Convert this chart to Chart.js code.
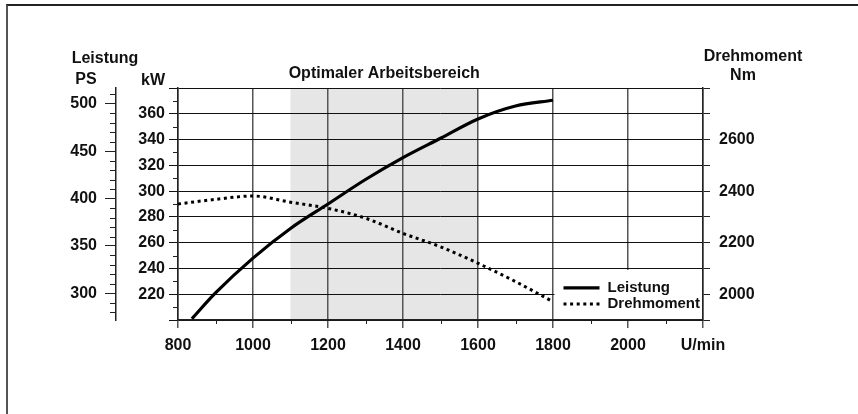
<!DOCTYPE html>
<html>
<head>
<meta charset="utf-8">
<script src="https://cdn.jsdelivr.net/npm/chart.js@4/dist/chart.umd.min.js"></script>
<style>
  html, body { margin: 0; padding: 0; background: #fff; }
  #wrap { position: relative; width: 858px; height: 414px; overflow: hidden; }
  #frame { position: absolute; left: 6px; top: 4px; width: 900px; height: 500px;
           border-top: 2px solid #222; border-left: 2px solid #555; }
  #chart { position: absolute; left: 0; top: 0; }
</style>
</head>
<body>
<div id="wrap">
  <div id="frame"></div>
  <canvas id="chart" width="858" height="414"></canvas>
</div>
<script>
// ============================================================
// Leistung / Drehmoment Kennlinie
// ============================================================

const rpmLeistung = [837, 900, 1000, 1100, 1200, 1300, 1400, 1500, 1600, 1700, 1800];
const leistungKW  = [201, 221, 248, 271, 290, 309, 326, 341, 356, 366, 370.5];

const rpmDrehmoment = [800, 900, 1000, 1100, 1200, 1300, 1400, 1500, 1600, 1700, 1800];
const drehmomentNm  = [2350, 2368, 2381, 2357, 2333, 2295, 2236, 2184, 2120, 2049, 1971];

const rpmTicks = [800, 1000, 1200, 1400, 1600, 1800, 2000, 2200];
const rpmLabels = ['800', '1000', '1200', '1400', '1600', '1800', '2000', 'U/min'];
const kwTicks = [220, 240, 260, 280, 300, 320, 340, 360];
const psTicks = [300, 350, 400, 450, 500];
const nmTicks = [2000, 2200, 2400, 2600];

const rpmMin = 800, rpmMax = 2200;
const kwMin = 200, kwMax = 380;
const nmMin = 1900, nmMax = 2800;
const PS_PER_KW = 1.35962;

const bandFrom = 1100, bandTo = 1600;
const bandTitle = 'Optimaler Arbeitsbereich';

const FONT = "'Liberation Sans', Arial, sans-serif";
Chart.defaults.font.family = FONT;
Chart.defaults.font.size = 16;
Chart.defaults.font.weight = 'bold';
Chart.defaults.color = '#111';

const bandPlugin = {
    id: 'band',
    beforeDraw(chart) {
        const { ctx, chartArea, scales } = chart;
        const x0 = scales.x.getPixelForValue(bandFrom);
        const x1 = scales.x.getPixelForValue(bandTo);
        ctx.save();
        ctx.fillStyle = '#e6e6e6';
        ctx.fillRect(x0, chartArea.top, x1 - x0, chartArea.bottom - chartArea.top);
        ctx.restore();
    }
};

const minorTicksPlugin = {
    id: 'minorTicks',
    afterDraw(chart) {
        const { ctx, chartArea, scales } = chart;
        ctx.save();
        ctx.strokeStyle = '#222';
        ctx.lineWidth = 1;
        ctx.beginPath();
        for (let v = kwMin + 10; v < kwMax; v += 20) {
            const y = Math.round(scales.kw.getPixelForValue(v)) + 0.5;
            ctx.moveTo(chartArea.left - 5, y); ctx.lineTo(chartArea.left, y);
        }
        const ps = scales.ps;
        for (let v = 280; v <= 510; v += 10) {
            if (v % 50 === 0) continue;
            const y = Math.round(ps.getPixelForValue(v)) + 0.5;
            ctx.moveTo(ps.right - 6, y); ctx.lineTo(ps.right, y);
        }
        for (let v = rpmMin + 100; v < rpmMax; v += 200) {
            const x = Math.round(scales.x.getPixelForValue(v)) + 0.5;
            ctx.moveTo(x, chartArea.bottom); ctx.lineTo(x, chartArea.bottom + 4);
        }
        ctx.stroke();
        ctx.restore();
    }
};

const legendPlugin = {
    id: 'boxLegend',
    beforeDatasetsDraw(chart) {
        const { ctx, chartArea, scales } = chart;
        const left = scales.x.getPixelForValue(1800) + 1.5;
        const top = scales.kw.getPixelForValue(240) + 1.5;
        ctx.save();
        ctx.fillStyle = '#fff';
        ctx.fillRect(left, top, chartArea.right - 1 - left, chartArea.bottom - 1 - top);
        ctx.font = 'bold 15px ' + FONT;
        ctx.textBaseline = 'middle';
        ctx.fillStyle = '#111';
        chart.data.datasets.forEach((ds, i) => {
            const y = top + 18 + i * 16;
            ctx.beginPath();
            ctx.strokeStyle = ds.borderColor;
            ctx.lineWidth = ds.borderWidth;
            ctx.setLineDash(ds.borderDash || []);
            ctx.moveTo(left + 9, y); ctx.lineTo(left + 45, y);
            ctx.stroke();
            ctx.setLineDash([]);
            ctx.fillText(ds.label, left + 53, y);
        });
        ctx.restore();
    }
};

const titlesPlugin = {
    id: 'titles',
    afterDraw(chart) {
        const { ctx, scales } = chart;
        ctx.save();
        ctx.font = 'bold 16px ' + FONT;
        ctx.fillStyle = '#111';
        ctx.textBaseline = 'alphabetic';
        ctx.textAlign = 'center';
        ctx.fillText('Leistung', 105, 63);
        ctx.fillText('PS', 86, 84);
        ctx.fillText('Drehmoment', 753, 61);
        ctx.fillText('Nm', 743, 80);
        const bx = (scales.x.getPixelForValue(bandFrom) + scales.x.getPixelForValue(bandTo)) / 2;
        ctx.fillText(bandTitle, bx, 78);
        ctx.textAlign = 'right';
        ctx.fillText('kW', 165, 85);
        ctx.restore();
    }
};

new Chart(document.getElementById('chart').getContext('2d'), {
    type: 'line',
    data: {
        datasets: [{
            label: 'Leistung',
            data: rpmLeistung.map((r, i) => ({ x: r, y: leistungKW[i] })),
            yAxisID: 'kw',
            borderColor: '#000',
            borderWidth: 3.2,
            pointRadius: 0,
            cubicInterpolationMode: 'monotone',
            fill: false
        }, {
            label: 'Drehmoment',
            data: rpmDrehmoment.map((r, i) => ({ x: r, y: drehmomentNm[i] })),
            yAxisID: 'nm',
            borderColor: '#000',
            borderWidth: 3,
            borderDash: [3, 3.6],
            borderCapStyle: 'butt',
            pointRadius: 0,
            cubicInterpolationMode: 'monotone',
            fill: false
        }]
    },
    options: {
        responsive: false,
        animation: false,
        devicePixelRatio: 1,
        layout: { padding: { left: 56, right: 75, top: 88, bottom: 54 } },
        plugins: { legend: { display: false }, tooltip: { enabled: false } },
        scales: {
            x: {
                type: 'linear',
                min: rpmMin, max: rpmMax,
                afterFit: s => { s.height = 40; },
                afterBuildTicks: s => { s.ticks = rpmTicks.map(v => ({ value: v })); },
                grid: { color: '#555', lineWidth: 1.5, tickLength: 8 },
                border: { display: true, color: '#222', width: 1.5 },
                ticks: {
                    maxRotation: 0, autoSkip: false, padding: 8,
                    callback: v => rpmLabels[rpmTicks.indexOf(v)]
                }
            },
            kw: {
                type: 'linear', position: 'left', weight: 0,
                min: kwMin, max: kwMax,
                afterFit: s => { s.width = 62; },
                grid: { color: '#111', lineWidth: 1, tickLength: 9 },
                border: { display: true, color: '#222', width: 1.5 },
                ticks: {
                    stepSize: 20, padding: 4, autoSkip: false,
                    callback: v => kwTicks.includes(v) ? String(v) : ''
                }
            },
            ps: {
                type: 'linear', position: 'left', weight: 1,
                min: kwMin * PS_PER_KW, max: kwMax * PS_PER_KW,
                afterFit: s => { s.width = 60; },
                afterBuildTicks: s => { s.ticks = psTicks.map(v => ({ value: v })); },
                grid: { drawOnChartArea: false, color: '#222', lineWidth: 1, tickLength: 11 },
                border: { display: true, color: '#222', width: 1.5 },
                ticks: { padding: 8, autoSkip: false, callback: v => String(v) }
            },
            nm: {
                type: 'linear', position: 'right',
                min: nmMin, max: nmMax,
                afterFit: s => { s.width = 80; },
                grid: { drawOnChartArea: false, color: '#222', lineWidth: 1, tickLength: 7 },
                border: { display: true, color: '#222', width: 1.5 },
                ticks: {
                    stepSize: 100, padding: 9, autoSkip: false,
                    callback: v => nmTicks.includes(v) ? String(v) : ''
                }
            }
        }
    },
    plugins: [bandPlugin, legendPlugin, minorTicksPlugin, titlesPlugin]
});
</script>
</body>
</html>
